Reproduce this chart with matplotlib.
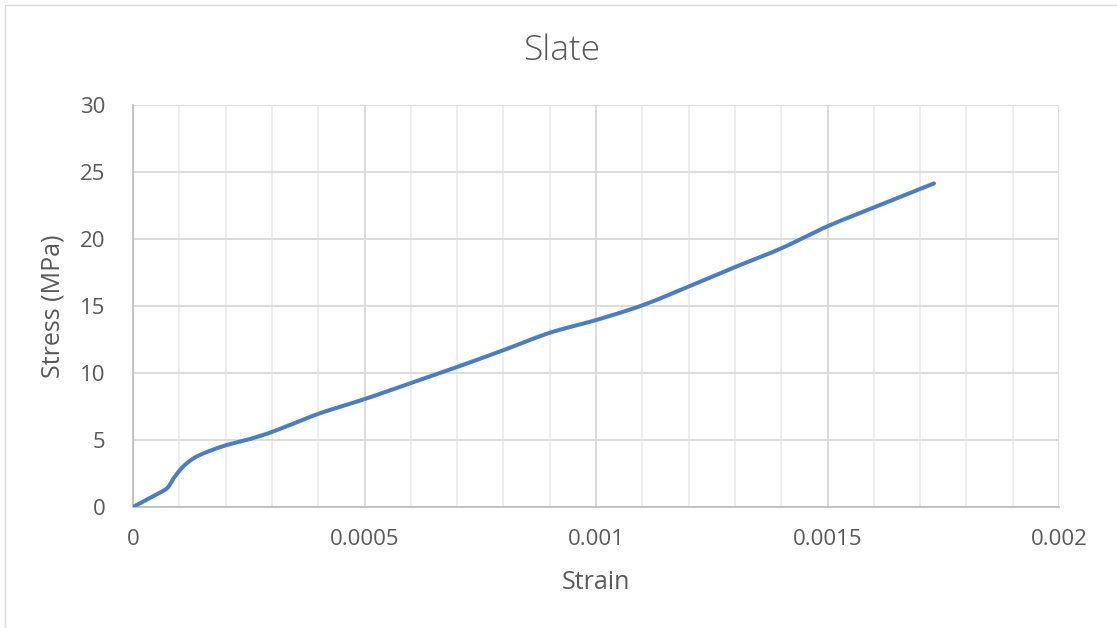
import matplotlib
matplotlib.use("Agg")
import matplotlib.pyplot as plt
from matplotlib.ticker import MultipleLocator
from matplotlib.patches import Rectangle
import numpy as np

# Data
strain = [0, 0.00003, 0.00006, 0.000075, 0.000087, 0.000105, 0.000127, 0.000152,
          0.0002, 0.00025, 0.0003, 0.0004, 0.0005, 0.0006, 0.0007, 0.0008,
          0.0009, 0.001, 0.0011, 0.0012, 0.0013, 0.0014, 0.0015, 0.0016, 0.00173]
stress = [0, 0.55, 1.1, 1.45, 2.1, 2.9, 3.55, 4.0,
          4.6, 5.05, 5.6, 6.95, 8.05, 9.25, 10.45, 11.7,
          13.0, 13.95, 15.05, 16.45, 17.9, 19.3, 20.95, 22.35, 24.15]
x_ticks = [0, 0.0005, 0.001, 0.0015, 0.002]
x_tick_labels = ["0", "0.0005", "0.001", "0.0015", "0.002"]
y_ticks = [0, 5, 10, 15, 20, 25, 30]

FONT = ["Open Sans", "DejaVu Sans"]
TXT = "#595959"

fig = plt.figure(figsize=(11.17, 6.28), dpi=100)
fig.patch.set_facecolor("white")

# outer chart border
fig.patches.append(Rectangle((5 / 1117, -0.01), 1.2, (628 - 5) / 628 + 0.01,
                             transform=fig.transFigure, fill=False,
                             edgecolor="#D9D9D9", linewidth=1.0))

ax = fig.add_axes([133 / 1117, (628 - 507) / 628, (1059 - 133) / 1117, (507 - 105) / 628])

# smooth curve (chord-length parameterised cubic Hermite, like Excel smoothing)
xs = np.array(strain) / 0.002
ys = np.array(stress) / 30.0 * (402 / 926)
pts = np.column_stack([xs, ys])
d = np.sqrt(((pts[1:] - pts[:-1]) ** 2).sum(axis=1))
t = np.concatenate([[0], np.cumsum(d)])
n = len(t)
m = np.zeros_like(pts)
for i in range(n):
    if i == 0:
        m[i] = (pts[1] - pts[0]) / (t[1] - t[0])
    elif i == n - 1:
        m[i] = (pts[-1] - pts[-2]) / (t[-1] - t[-2])
    else:
        m[i] = (pts[i + 1] - pts[i - 1]) / (t[i + 1] - t[i - 1])
curve = []
for i in range(n - 1):
    h = t[i + 1] - t[i]
    for f in np.linspace(0, 1, 30, endpoint=False):
        h00 = 2 * f ** 3 - 3 * f ** 2 + 1
        h10 = f ** 3 - 2 * f ** 2 + f
        h01 = -2 * f ** 3 + 3 * f ** 2
        h11 = f ** 3 - f ** 2
        curve.append(h00 * pts[i] + h10 * h * m[i] + h01 * pts[i + 1] + h11 * h * m[i + 1])
curve.append(pts[-1])
curve = np.array(curve)
sx = curve[:, 0] * 0.002
sy = curve[:, 1] * 30.0 / (402 / 926)
ax.plot(sx, sy, color="#4A7EBF", linewidth=2.9, solid_capstyle="round", zorder=3)

ax.set_xlim(0, 0.002)
ax.set_ylim(0, 30)
ax.set_xticks(x_ticks)
ax.set_xticklabels(x_tick_labels)
ax.set_yticks(y_ticks)
ax.xaxis.set_minor_locator(MultipleLocator(0.0001))

ax.grid(True, which="major", color="#D9D9D9", linewidth=1.3, zorder=0)
ax.grid(True, which="minor", axis="x", color="#EDEDED", linewidth=1.3, zorder=0)
ax.set_axisbelow(True)

for side in ["top", "right"]:
    ax.spines[side].set_visible(False)
for side in ["left", "bottom"]:
    ax.spines[side].set_color("#BFBFBF")
    ax.spines[side].set_linewidth(1.3)

ax.tick_params(which="both", length=0)
ax.tick_params(axis="y", pad=20, labelsize=16, labelcolor=TXT)
ax.tick_params(axis="x", pad=16, labelsize=16, labelcolor=TXT)
for lab in ax.get_xticklabels() + ax.get_yticklabels():
    lab.set_family(FONT)

ax.set_xlabel("Strain", fontsize=18, color=TXT, family=FONT, labelpad=14)
ax.set_ylabel("Stress (MPa)", fontsize=18, color=TXT, family=FONT, labelpad=10)

fig.text(0.503, 1 - 51 / 628, "Slate", ha="center", va="center", fontsize=25.5,
         color=TXT, family=FONT, fontweight="light")

fig.savefig("out.png", dpi=100, facecolor="white")
